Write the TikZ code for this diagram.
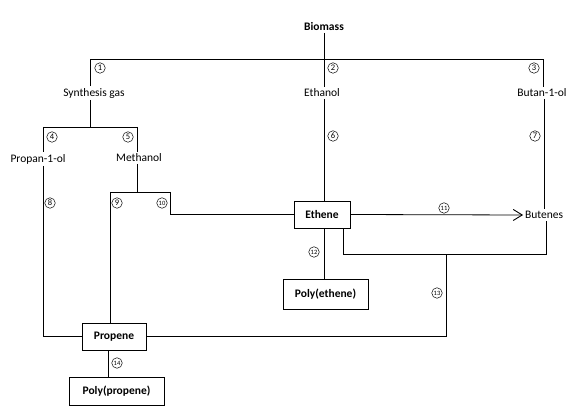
\documentclass[tikz,border=0pt]{standalone}
\usepackage{fontspec}
\setmainfont{Carlito}
\usetikzlibrary{arrows.meta}
\begin{document}
\begin{tikzpicture}[x=1pt,y=-1pt,line width=0.8pt,
  lbl/.style={inner sep=1.5pt,font=\fontsize{11.5}{13}\selectfont},
  bold/.style={lbl,font=\fontsize{11.5}{13}\selectfont\bfseries},
  box/.style={draw,line width=0.8pt,font=\fontsize{11.5}{13}\selectfont\bfseries,inner sep=0pt},
  circ/.style={circle,draw,line width=0.5pt,minimum size=10.5pt,inner sep=0pt,font=\fontsize{8.5}{8.5}\selectfont},
  circs/.style={circ,font=\fontsize{6.5}{6.5}\selectfont},
  arr/.style={-{Straight Barb[length=9pt,width=11pt,line width=0.9pt]}}]
\useasboundingbox (0,0) rectangle (584,419);
% text nodes
\node[bold] (bio) at (324,27) {Biomass};
\node[lbl] (syn) at (94,93) {Synthesis gas};
\node[lbl] (eth) at (322,93) {Ethanol};
\node[lbl] (but) at (542,93) {Butan-1-ol};
\node[lbl] (prop) at (38,159) {Propan-1-ol};
\node[lbl] (meth) at (139,158) {Methanol};
\node[lbl] (butenes) at (544,215) {Butenes};
% boxes
\node[box,minimum width=56pt,minimum height=27pt] (ethene) at (322,214.5) {Ethene};
\node[box,minimum width=85pt,minimum height=30pt] (polye) at (325.5,294) {Poly(ethene)};
\node[box,minimum width=64pt,minimum height=27pt] (propene) at (114,336.5) {Propene};
\node[box,minimum width=95pt,minimum height=28pt] (polyp) at (116.5,391) {Poly(propene)};
% junction coordinates
\coordinate (b1) at (90,59);
\coordinate (b2) at (324,59);
\coordinate (b3) at (543,59);
\coordinate (s1) at (90,127);
\coordinate (s4) at (43,127);
\coordinate (s5) at (137,127);
\coordinate (m1) at (137,192);
\coordinate (m9) at (110,192);
\coordinate (m10) at (170,192);
\coordinate (l1) at (343,254);
\coordinate (l2) at (546,254);
\coordinate (l3) at (446,254);
% connectors
\draw (bio.south -| b2) -- (b2);
\draw (syn.north -| b1) -- (b1) -- (b3) -- (but.north -| b3);
\draw (b2) -- (eth.north -| b2);
\draw (syn.south -| b1) -- (s1);
\draw (s4) -- (s5);
\draw (s4) -- (prop.north -| s4);
\draw (s5) -- (meth.north -| s5);
\draw (prop.south -| s4) |- (propene.west);
\draw (meth.south -| s5) -- (m1);
\draw (m9) -- (m10);
\draw (m9) -- (propene.north -| m9);
\draw (m10) |- (ethene.west);
\draw (eth.south -| b2) -- (ethene.north -| b2);
\draw (but.south -| 544,0) -- (butenes.north -| 544,0);
\draw[arr] (ethene.east) -- (butenes.west);
\draw (ethene.south -| 324,0) -- (polye.north -| 324,0);
\draw (ethene.south -| l1) -- (l1) -- (l2) -- (butenes.south -| l2);
\draw (propene.east) -| (l3);
\draw (propene.south -| 108,0) -- (polyp.north -| 108,0);
% circled numbers
\node[circ] (c1) at (100,68) {1};
\node[circ] (c2) at (333,68) {2};
\node[circ] (c3) at (534,68) {3};
\node[circ] (c4) at (52,137) {4};
\node[circ] (c5) at (128,137) {5};
\node[circ] (c6) at (333,136) {6};
\node[circ] (c7) at (535,136) {7};
\node[circ] (c8) at (50,203) {8};
\node[circ] (c9) at (117,203) {9};
\node[circs] (c10) at (162,203) {10};
\node[circs] (c11) at (444,208) {11};
\node[circs] (c12) at (314,252) {12};
\node[circs] (c13) at (437,293) {13};
\node[circs] (c14) at (117,363) {14};
\end{tikzpicture}
\end{document}
